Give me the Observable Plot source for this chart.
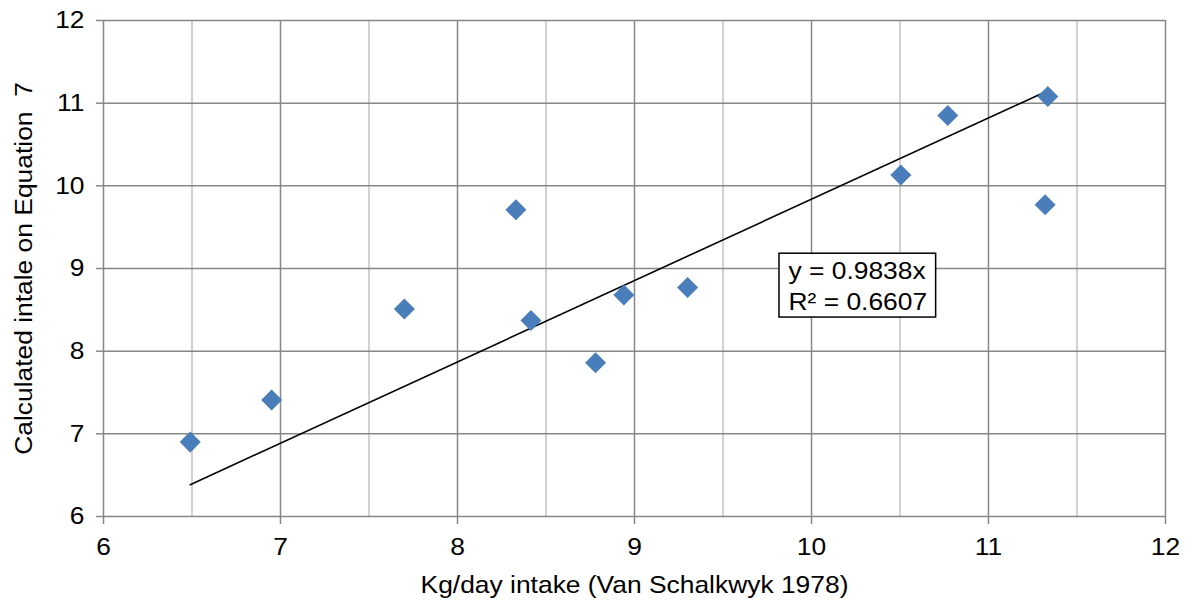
<!DOCTYPE html>
<html>
<head>
<meta charset="utf-8">
<script src="https://cdn.jsdelivr.net/npm/d3@7"></script>
<script src="https://cdn.jsdelivr.net/npm/@observablehq/plot@0.6"></script>
<style>
  html, body { margin: 0; padding: 0; background: #fff; }
  #chart { width: 1192px; height: 600px; }
</style>
</head>
<body>
<div id="chart"></div>
<script>
// Measured intake (Van Schalkwyk 1978) vs. intake calculated from Equation 7
const measured   = [6.49, 6.95, 7.70, 8.33, 8.415, 8.78, 8.94, 9.30, 10.505, 10.77, 11.335, 11.32];
const calculated = [6.90, 7.41, 8.51, 9.71, 8.37, 7.86, 8.68, 8.77, 10.13, 10.85, 11.08, 9.77];

// Linear fit through the origin
const slope = 0.9838;
const rSquared = 0.6607;

// Axis ticks and grid
const xTicks = [6, 7, 8, 9, 10, 11, 12];
const xMinorTicks = [6.5, 7.5, 8.5, 9.5, 10.5, 11.5];
const yTicks = [6, 7, 8, 9, 10, 11, 12];

const xTitle = "Kg/day intake (Van Schalkwyk 1978)";
const yTitle = "Calculated intale on Equation  7";

// Position of the equation label (data units)
const labelX = [9.87];
const labelY = [8.81];

const points = measured.map((x, i) => ({x, y: calculated[i]}));
const xExtent = d3.extent(measured);
const trend = xExtent.map(x => ({x, y: slope * x}));
const equation = [{x: labelX[0], y: labelY[0],
  text: `y = ${slope}x\nR² = ${rSquared}`}];

// Square rotated 45°, like a spreadsheet diamond marker
const diamond = {
  draw(context, size) {
    const h = Math.sqrt(size / 2);
    context.moveTo(0, -h);
    context.lineTo(h, 0);
    context.lineTo(0, h);
    context.lineTo(-h, 0);
    context.closePath();
  }
};

const majorGrid = "#878787";
const minorGrid = "#c3c3c3";
const fs = 24;
const stretch = 1.1; // slightly wide lettering

const chart = Plot.plot({
  width: 1192,
  height: 600,
  marginLeft: 103,
  marginRight: 27,
  marginTop: 20,
  marginBottom: 84,
  style: {fontFamily: "'Liberation Sans', Arial, sans-serif", fontSize: `${fs}px`, background: "#fff", color: "#000"},
  x: {domain: [6, 12]},
  y: {domain: [6, 12]},
  marks: [
    Plot.ruleX(xMinorTicks, {stroke: minorGrid, strokeWidth: 1.5}),
    Plot.ruleX(xTicks, {stroke: majorGrid, strokeWidth: 1.5}),
    Plot.ruleY(yTicks, {stroke: majorGrid, strokeWidth: 1.5}),
    Plot.axisX({ticks: xTicks, tickFormat: d => String(d), tickSize: 8, tickPadding: 13, stroke: majorGrid,
      strokeWidth: 1.5, fill: "#000", fontSize: fs, label: null}),
    Plot.axisY({ticks: yTicks, tickFormat: d => String(d), tickSize: 7, tickPadding: 12, stroke: majorGrid,
      strokeWidth: 1.5, fill: "#000", fontSize: fs, label: null}),
    Plot.line(trend, {x: "x", y: "y", stroke: "#000", strokeWidth: 1.6}),
    Plot.dot(points, {x: "x", y: "y", symbol: diamond, r: 8.4, fill: "#4a7ebb", stroke: "none"}),
    Plot.text(equation, {x: "x", y: "y", text: "text", textAnchor: "start", lineAnchor: "middle",
      lineHeight: 1.3, fill: "#000", fontSize: fs, className: "eqlabel"}),
    Plot.text([xTitle], {frameAnchor: "bottom", text: d => d, dy: 76, textAnchor: "middle",
      lineAnchor: "bottom", fill: "#000", fontSize: fs}),
    Plot.text([yTitle], {frameAnchor: "left", text: d => d, dx: -79, rotate: -90, textAnchor: "middle",
      lineAnchor: "middle", fill: "#000", fontSize: fs})
  ]
});

document.getElementById("chart").appendChild(chart);

// Widen every label along its own baseline, around its anchor point
chart.querySelectorAll("text").forEach(t => {
  const tr = t.getAttribute("transform");
  if (tr) {
    t.setAttribute("transform", `${tr} scale(${stretch},1)`);
  } else {
    const x = +t.getAttribute("x") || 0, y = +t.getAttribute("y") || 0;
    t.removeAttribute("x"); t.removeAttribute("y");
    t.setAttribute("transform", `translate(${x},${y}) scale(${stretch},1)`);
  }
});

// Framed box behind the equation label
const label = chart.querySelector("g.eqlabel");
if (label) {
  const b = label.getBBox();
  const padX = 9, padY = 3;
  const rect = document.createElementNS("http://www.w3.org/2000/svg", "rect");
  rect.setAttribute("x", b.x - padX);
  rect.setAttribute("y", b.y - padY);
  rect.setAttribute("width", b.width + 2 * padX);
  rect.setAttribute("height", b.height + 2 * padY);
  rect.setAttribute("fill", "#fff");
  rect.setAttribute("stroke", "#000");
  rect.setAttribute("stroke-width", 1.5);
  label.parentNode.insertBefore(rect, label);
}
</script>
</body>
</html>
